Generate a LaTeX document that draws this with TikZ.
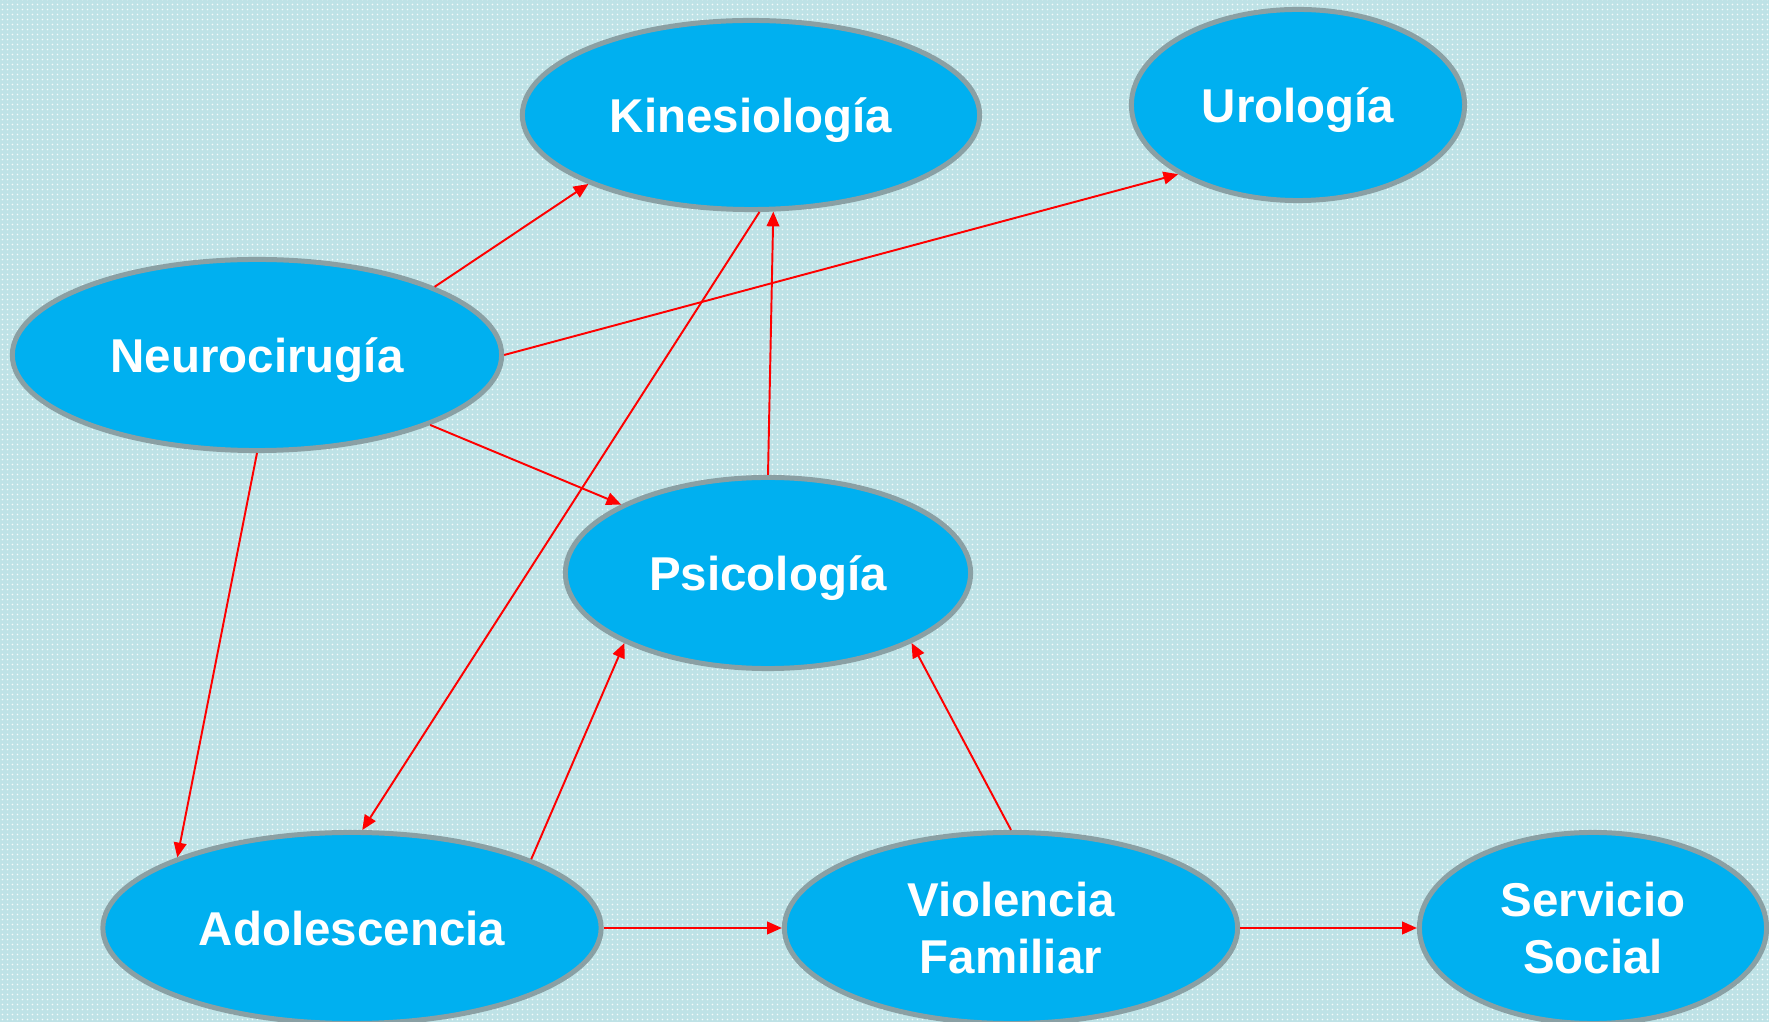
\documentclass[tikz,border=0pt]{standalone}
\usepackage{fontspec}
\setmainfont{Liberation Sans}
\usetikzlibrary{arrows.meta,shapes.geometric,patterns.meta}
\definecolor{bgteal}{RGB}{190,226,230}
\definecolor{nodefill}{RGB}{0,176,240}
\definecolor{nodeline}{RGB}{138,160,164}
\tikzdeclarepattern{
  name=bgdots,
  type=uncolored,
  bounding box={(0pt,0pt) and (1.42pt,1.42pt)},
  tile size={(1.42pt,1.42pt)},
  code={\fill (0.71pt,0.71pt) circle (0.24pt);}
}
\tikzset{
  topic/.style={ellipse, draw=nodeline, line width=1.42pt, fill=nodefill,
    inner sep=0pt, minimum height=1.91cm, text=white, align=center,
    font=\fontsize{13.5}{16.2}\selectfont\bfseries},
  oneline/.style={text height=0.35cm, text depth=0cm},
  link/.style={draw=red, line width=0.55pt, -{Triangle[length=4.2pt,width=3.6pt]}}
}
\begin{document}
\begin{tikzpicture}[x=0.01cm,y=-0.01cm]
\useasboundingbox (0,0) rectangle (1769,1022);
\fill[bgteal] (0,0) rectangle (1769,1022);
\fill[pattern=bgdots, pattern color=white!85!bgteal] (0,0) rectangle (1769,1022);
\begin{scope}
\clip (0,0) rectangle (1769,1022);
\node[topic, oneline, minimum width=4.57cm, minimum height=1.89cm] (kin) at (751,115) {Kinesiología};
\node[topic, oneline, minimum width=3.33cm] (uro) at (1298,105) {Urología};
\node[topic, oneline, minimum width=4.89cm] (neu) at (257,355) {Neurocirugía};
\node[topic, oneline, minimum width=4.05cm] (psi) at (768,573) {Psicología};
\node[topic, oneline, minimum width=4.98cm] (ado) at (352,928) {Adolescencia};
\node[topic, minimum width=4.53cm] (vio) at (1011,928) {Violencia\\Familiar};
\node[topic, minimum width=3.47cm] (ser) at (1593,928) {Servicio\\Social};
\end{scope}
\draw[link] (neu.21) -- (kin.203);
\draw[link] (neu.0) -- (uro.210);
\draw[link] (neu.338) -- (psi.155);
\draw[link] (neu.270) -- (ado.158);
\draw[link] (kin.275) -- (ado.84);
\draw[link] (psi.90) -- (kin.283);
\draw[link] (ado.21) -- (psi.206);
\draw[link] (vio.90) -- (psi.334);
\draw[link] (ado.east) -- (vio.west);
\draw[link] (vio.east) -- (ser.west);
\end{tikzpicture}
\end{document}
